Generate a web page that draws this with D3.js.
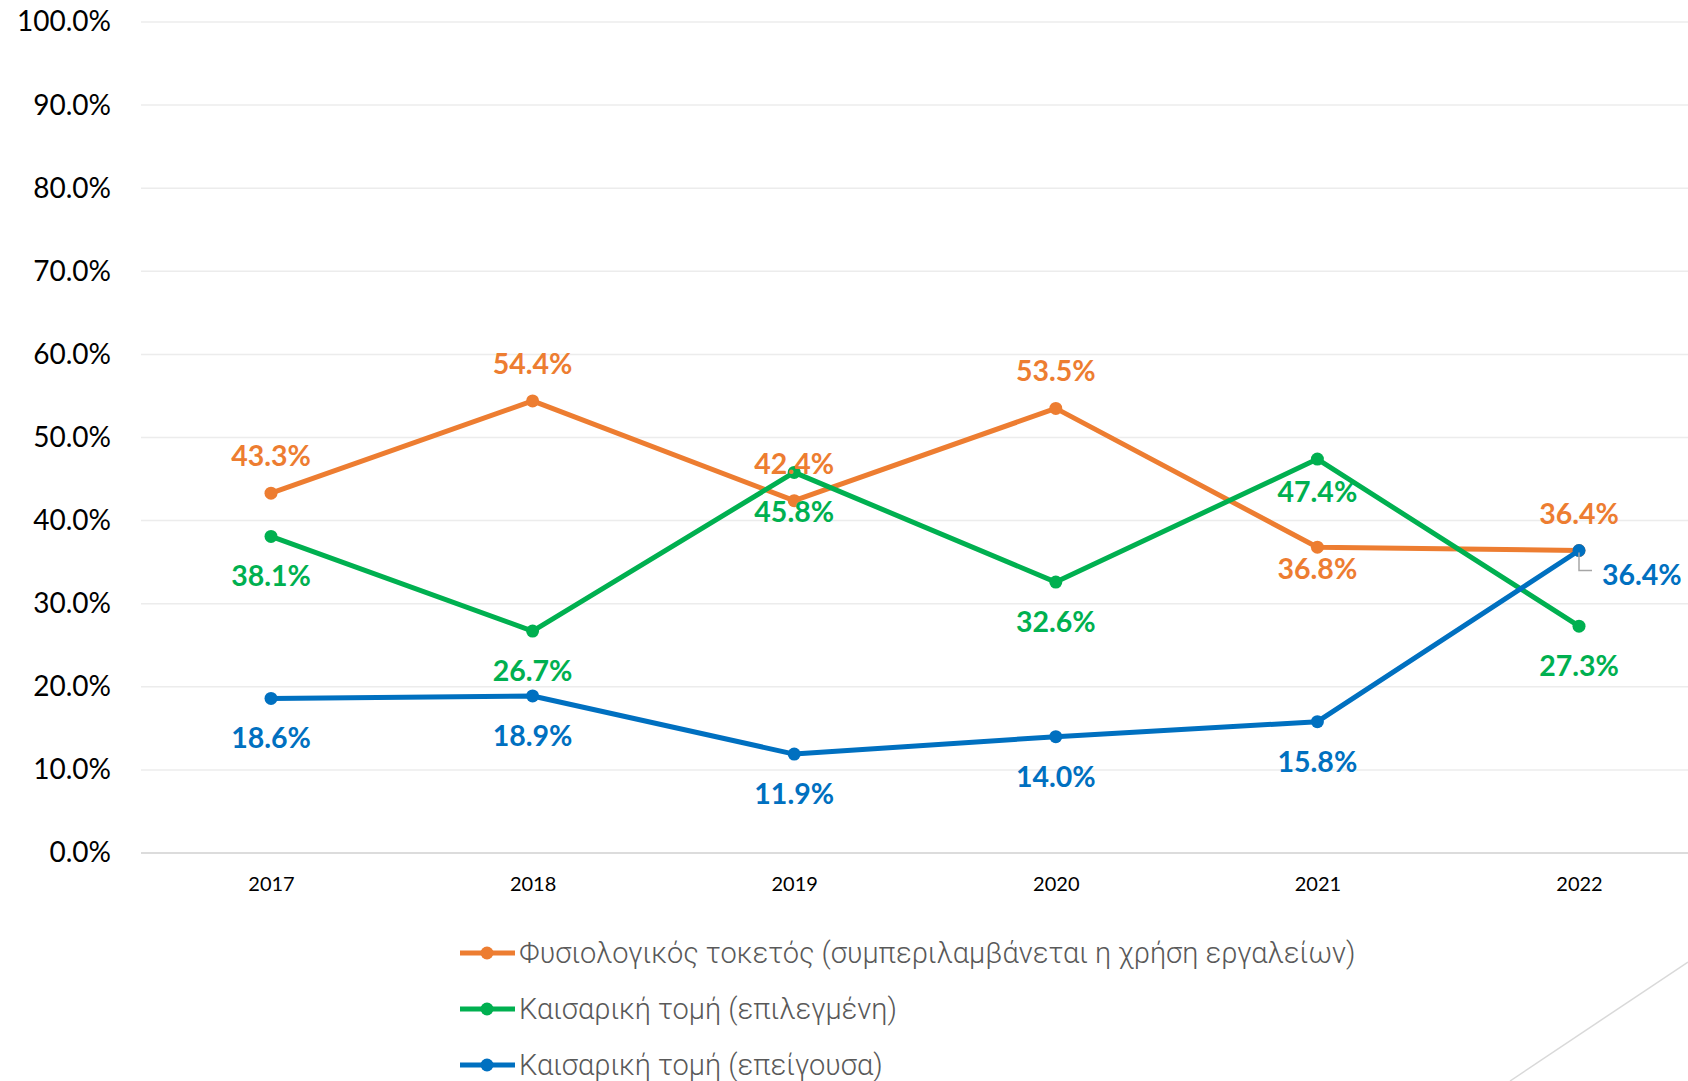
<!DOCTYPE html>
<html>
<head>
<meta charset="utf-8">
<script src="https://cdn.jsdelivr.net/npm/d3@7"></script>
<style>
  html, body { margin: 0; padding: 0; background: #fff; overflow: hidden; }
  svg { display: block; }
  .tick text { font-family: Lato, "Open Sans", sans-serif; }
</style>
</head>
<body>
<div id="chart"></div>
<script>
// chart data
var years = ["2017", "2018", "2019", "2020", "2021", "2022"];
var seriesNames = [
  "Φυσιολογικός τοκετός (συμπεριλαμβάνεται η χρήση εργαλείων)",
  "Καισαρική τομή (επιλεγμένη)",
  "Καισαρική τομή (επείγουσα)"
];
var normalBirth = [43.3, 54.4, 42.4, 53.5, 36.8, 36.4];
var electiveCs = [38.1, 26.7, 45.8, 32.6, 47.4, 27.3];
var emergencyCs = [18.6, 18.9, 11.9, 14.0, 15.8, 36.4];
var seriesColors = ["#ED7D31", "#00B050", "#0070C0"];
var yTicks = [0, 10, 20, 30, 40, 50, 60, 70, 80, 90, 100];
// where each data label sits relative to its point
var labelSide = [
  ["up", "up", "up", "up", "down", "up"],
  ["down", "down", "down", "down", "down", "down"],
  ["down", "down", "down", "down", "down", "right"]
];
// a few labels were nudged closer to their point in the original
var labelNudge = { "0-4": -18, "1-4": -7 };

var width = 1688, height = 1081;
var series = [normalBirth, electiveCs, emergencyCs];

var svg = d3.select("#chart").append("svg")
    .attr("width", width)
    .attr("height", height);

var x = d3.scalePoint()
    .domain(years)
    .range([271, 1579]);

var y = d3.scaleLinear()
    .domain([0, 100])
    .range([853, 22]);

// gridlines
svg.append("g")
  .selectAll("line")
  .data(yTicks)
  .join("line")
    .attr("x1", 141)
    .attr("x2", width)
    .attr("y1", d => y(d))
    .attr("y2", d => y(d))
    .attr("stroke", d => d == 0 ? "#d0d0d0" : "#ececec")
    .attr("stroke-width", 1.5);

// y axis labels
var yAxis = d3.axisLeft(y)
    .tickValues(yTicks)
    .tickSize(0)
    .tickPadding(0)
    .tickFormat(d => d.toFixed(1) + "%");

svg.append("g")
    .attr("transform", "translate(111,0)")
    .call(yAxis)
    .call(g => g.select(".domain").remove())
    .call(g => g.selectAll("text")
        .attr("font-size", 28)
        .attr("fill", "#000"));

// x axis labels
var xAxis = d3.axisBottom(x)
    .tickSize(0)
    .tickPadding(0);

svg.append("g")
    .attr("transform", "translate(0,877)")
    .call(xAxis)
    .call(g => g.select(".domain").remove())
    .call(g => g.selectAll("text")
        .attr("font-size", 20)
        .attr("fill", "#000"));

var line = d3.line()
    .x((d, i) => x(years[i]))
    .y(d => y(d));

// lines and markers
series.forEach(function(vals, s){
  svg.append("path")
    .datum(vals)
    .attr("d", line)
    .attr("fill", "none")
    .attr("stroke", seriesColors[s])
    .attr("stroke-width", 5)
    .attr("stroke-linejoin", "round");

  svg.append("g")
    .selectAll("circle")
    .data(vals)
    .join("circle")
      .attr("cx", (d, i) => x(years[i]))
      .attr("cy", d => y(d))
      .attr("r", 6.5)
      .attr("fill", seriesColors[s]);
});

// data labels
series.forEach(function(vals, s){
  vals.forEach(function(v, i){
    var side = labelSide[s][i];
    var nudge = labelNudge[s + "-" + i] || 0;
    var px = x(years[i]), py = y(v);
    var t = svg.append("text")
      .text(v.toFixed(1) + "%")
      .attr("font-family", "Lato, 'Open Sans', sans-serif")
      .attr("font-weight", "bold")
      .attr("font-size", 28.5)
      .attr("fill", seriesColors[s]);
    if(side == "up"){
      t.attr("x", px).attr("y", py - 27 + nudge).attr("text-anchor", "middle");
    }
    else if(side == "down"){
      t.attr("x", px).attr("y", py + 50 + nudge).attr("text-anchor", "middle");
    }
    else {
      t.attr("x", px + 23).attr("y", py + 34).attr("text-anchor", "start");
      // leader line
      svg.append("path")
        .attr("d", "M" + px + "," + (py + 2) + "V" + (py + 20) + "H" + (px + 13))
        .attr("fill", "none")
        .attr("stroke", "#a6a6a6")
        .attr("stroke-width", 1.5);
    }
  });
});

// legend
var legend = svg.append("g")
  .selectAll("g")
  .data(seriesNames)
  .join("g")
    .attr("transform", (d, i) => "translate(0," + (953 + i * 56) + ")");

legend.append("line")
    .attr("x1", 460)
    .attr("x2", 515)
    .attr("stroke", (d, i) => seriesColors[i])
    .attr("stroke-width", 5);

legend.append("circle")
    .attr("cx", 487)
    .attr("r", 6.5)
    .attr("fill", (d, i) => seriesColors[i]);

legend.append("text")
    .text(d => d)
    .attr("x", 519)
    .attr("y", 10)
    .attr("font-family", "Roboto, sans-serif")
    .attr("font-weight", 300)
    .attr("font-size", 29)
    .attr("fill", "#595959");

// decorative diagonal at the corner
svg.append("line")
    .attr("x1", 1510)
    .attr("y1", 1081)
    .attr("x2", 1688)
    .attr("y2", 962)
    .attr("stroke", "#d9d9d9")
    .attr("stroke-width", 1.5);
</script>
</body>
</html>
